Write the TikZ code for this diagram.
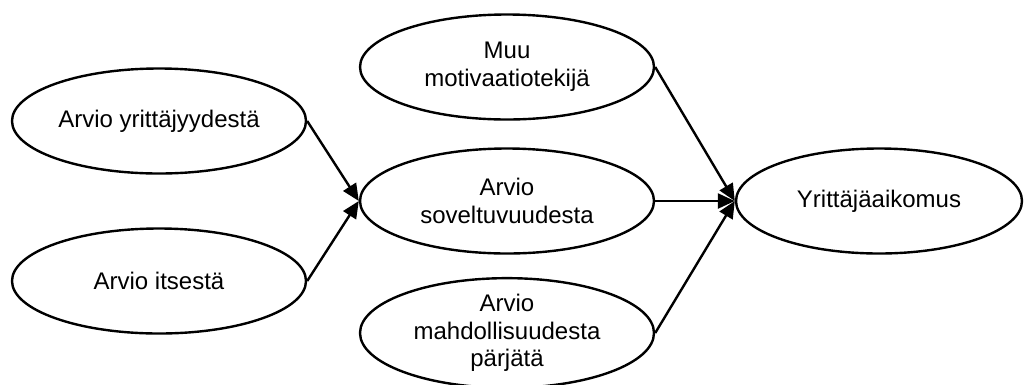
\documentclass[tikz,border=0pt]{standalone}
\usepackage{fontspec}
\setmainfont{Liberation Sans}
\usetikzlibrary{shapes.geometric,arrows.meta}
\begin{document}
\begin{tikzpicture}[x=1pt,y=-1pt,
  oval/.style={ellipse,draw=black,line width=2.4pt,minimum width=294pt,minimum height=105pt,inner sep=0pt,align=center,font=\fontsize{24}{27.6}\selectfont},
  conn/.style={line width=2.4pt,-{Triangle[length=17pt,width=15pt]}}]
\useasboundingbox (0,0) rectangle (1024,384);
\node[oval] (A) at (159,121) {Arvio yrittäjyydestä};
\node[oval] (B) at (159,281) {Arvio itsestä};
\node[oval] (M) at (507,67) {Muu\\motivaatiotekijä};
\node[oval] (S) at (507,201) {Arvio\\soveltuvuudesta};
\node[oval] (P) at (507,333) {Arvio\\mahdollisuudesta\\pärjätä};
\node[oval,minimum width=286pt] (Y) at (879,201) {Yrittäjäaikomus};
\draw[conn] (A.east) -- (S.west);
\draw[conn] (B.east) -- (S.west);
\draw[conn] (M.east) -- (Y.west);
\draw[conn] (S.east) -- (Y.west);
\draw[conn] (P.east) -- (Y.west);
\end{tikzpicture}
\end{document}
